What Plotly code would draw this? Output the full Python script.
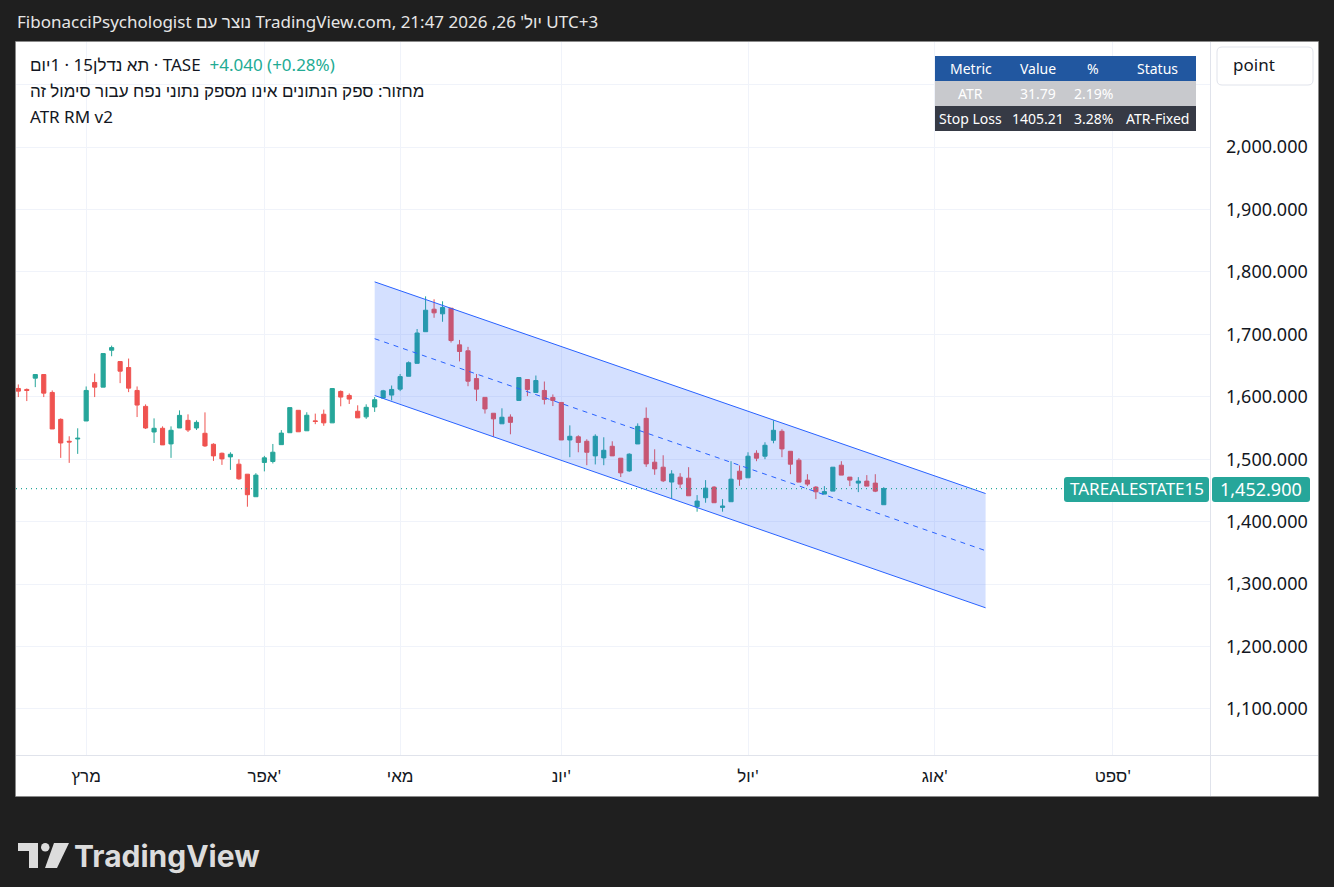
import plotly.graph_objects as go
import pandas as pd

# ---------------- DATA ----------------
session_first = "2026-02-18"
session_last = "2026-09-30"
market_holidays = ["2026-03-03", "2026-04-02", "2026-04-03", "2026-04-06", "2026-04-07",
                   "2026-04-08", "2026-04-22", "2026-05-21", "2026-05-22", "2026-07-23"]

month_numbers = [3, 4, 5, 6, 7, 8, 9]
month_labels = ["מרץ", "אפר'", "מאי", "יונ'", "יול'", "אוג'", "ספט'"]

open_prices = [1613.3, 1611.7, 1629.8, 1635.6, 1606.9, 1563.8, 1528.7, 1532.4, 1561.2, 1622.9,
               1615.4, 1674.5, 1656.4, 1646.8, 1610.1, 1584.6, 1543.6, 1549.5, 1524.5, 1550.0,
               1562.2, 1550.0, 1541.5, 1523.9, 1509.5, 1503.7, 1492.0, 1476.0, 1439.9, 1494.8,
               1496.3, 1523.3, 1542.4, 1578.3, 1545.5, 1561.4, 1572.0, 1558.2, 1608.5, 1602.1,
               1576.8, 1567.8, 1583.6, 1597.9, 1602.7, 1612.2, 1632.8, 1653.5, 1704.2, 1740.2,
               1732.8, 1741.8, 1683.1, 1673.6, 1629.1, 1599.0, 1573.6, 1556.7, 1567.5, 1594.1,
               1627.6, 1606.9, 1610.1, 1598.9, 1590.9, 1530.8, 1535.9, 1528.7, 1505.3, 1502.1,
               1520.7, 1501.6, 1481.3, 1524.4, 1565.4, 1495.2, 1487.2, 1463.4, 1471.2, 1469.6,
               1423.9, 1438.3, 1455.3, 1422.8, 1431.9, 1480.8, 1470.2, 1509.5, 1504.8, 1530.3,
               1544.7, 1512.7, 1498.4, 1466.5, 1455.3, 1444.1, 1448.9, 1490.4, 1471.3, 1461.7,
               1464.9, 1461.7, 1427.1]
high_prices = [1619.7, 1613.3, 1635.6, 1635.6, 1610.1, 1565.4, 1536.7, 1549.5, 1616.5, 1637.2,
               1669.2, 1681.9, 1656.4, 1661.2, 1616.5, 1587.8, 1565.4, 1552.6, 1552.6, 1578.2,
               1571.8, 1562.2, 1575.0, 1525.5, 1510.6, 1511.1, 1500.0, 1476.0, 1477.6, 1505.3,
               1524.4, 1546.6, 1582.6, 1578.3, 1575.2, 1573.0, 1579.4, 1613.2, 1610.1, 1605.3,
               1586.3, 1587.9, 1599.5, 1611.1, 1618.0, 1636.5, 1656.6, 1708.5, 1760.8, 1756.1,
               1752.9, 1741.8, 1691.0, 1679.9, 1636.5, 1599.0, 1573.6, 1581.5, 1571.8, 1630.8,
               1627.6, 1634.0, 1624.4, 1603.7, 1590.9, 1554.2, 1538.3, 1531.9, 1539.9, 1535.1,
               1528.7, 1501.6, 1509.5, 1557.4, 1582.9, 1515.9, 1506.3, 1482.4, 1477.6, 1487.2,
               1442.5, 1466.5, 1456.9, 1436.1, 1496.8, 1490.0, 1511.1, 1514.3, 1527.1, 1562.2,
               1547.9, 1512.7, 1501.6, 1476.0, 1456.9, 1456.9, 1487.2, 1496.8, 1471.3, 1471.3,
               1474.5, 1476.0, 1455.3]
low_prices = [1599.5, 1593.1, 1615.4, 1599.5, 1548.4, 1502.1, 1494.1, 1508.5, 1561.2, 1599.5,
              1615.4, 1664.9, 1621.8, 1607.4, 1567.5, 1548.4, 1526.0, 1522.9, 1502.1, 1550.0,
              1543.6, 1546.8, 1519.7, 1497.3, 1490.9, 1482.9, 1467.0, 1423.9, 1439.9, 1480.5,
              1493.2, 1523.3, 1542.4, 1543.9, 1545.5, 1556.1, 1553.5, 1558.2, 1584.7, 1588.4,
              1566.2, 1564.6, 1575.7, 1597.9, 1594.2, 1609.0, 1632.8, 1653.5, 1704.2, 1726.5,
              1720.1, 1686.8, 1656.6, 1616.9, 1593.1, 1573.1, 1536.0, 1556.7, 1539.9, 1594.1,
              1601.0, 1606.9, 1587.7, 1585.1, 1530.8, 1503.2, 1511.1, 1490.4, 1491.6, 1490.4,
              1505.3, 1471.4, 1479.7, 1524.4, 1487.7, 1475.0, 1463.4, 1436.7, 1453.7, 1441.4,
              1415.9, 1430.3, 1430.3, 1415.9, 1431.9, 1457.4, 1470.2, 1496.8, 1500.0, 1525.5,
              1503.2, 1476.0, 1463.3, 1456.9, 1436.1, 1444.1, 1448.9, 1474.5, 1456.9, 1447.3,
              1456.9, 1447.3, 1427.1]
close_prices = [1609.0, 1610.1, 1635.6, 1605.8, 1548.4, 1526.0, 1527.6, 1533.5, 1610.1, 1615.4,
                1669.2, 1678.7, 1641.0, 1613.8, 1586.7, 1550.0, 1549.5, 1522.9, 1546.3, 1570.2,
                1546.8, 1559.0, 1521.3, 1505.3, 1500.5, 1507.9, 1468.6, 1443.1, 1474.5, 1502.2,
                1511.2, 1541.8, 1582.6, 1543.9, 1570.4, 1560.4, 1558.2, 1613.2, 1599.5, 1596.3,
                1566.2, 1583.1, 1595.3, 1609.5, 1611.7, 1632.3, 1654.5, 1702.1, 1738.6, 1734.4,
                1742.9, 1690.0, 1672.5, 1624.9, 1612.2, 1580.5, 1564.6, 1567.2, 1559.0, 1630.8,
                1611.7, 1626.0, 1595.7, 1594.1, 1530.8, 1536.7, 1526.8, 1511.1, 1536.7, 1514.3,
                1505.3, 1478.1, 1508.0, 1552.6, 1492.5, 1484.5, 1465.4, 1476.4, 1460.1, 1441.4,
                1432.9, 1453.7, 1430.3, 1425.0, 1468.0, 1468.0, 1504.8, 1501.6, 1522.3, 1546.3,
                1516.5, 1492.0, 1463.3, 1460.1, 1447.8, 1448.1, 1487.2, 1474.5, 1466.5, 1464.9,
                1456.9, 1448.86, 1452.9]

channel_bars = [42, 114]
channel_upper = [1784.0, 1445.0]
channel_lower = [1602.0, 1262.0]

price_ticks = [1100, 1200, 1300, 1400, 1500, 1600, 1700, 1800, 1900, 2000, 2100]
labelled_price_ticks = [1100, 1200, 1300, 1400, 1500, 1600, 1700, 1800, 1900, 2000]

last_price = 1452.9
price_change = 4.040
price_change_pct = 0.28
symbol_code = "TAREALESTATE15"

header_text = "FibonacciPsychologist נוצר עם TradingView.com, יול' 26, 2026 21:47 UTC+3"
legend_title = "תא נדלן15 · 1יום · TASE"
legend_volume = "מחזור: ספק הנתונים אינו מספק נתוני נפח עבור סימול זה"
legend_indicator = "ATR RM v2"

table_header = ["Metric", "Value", "%", "Status"]
table_row_atr = ["ATR", "31.79", "2.19%", ""]
table_row_stop = ["Stop Loss", "1405.21", "3.28%", "ATR-Fixed"]

# ---------------- DERIVED ----------------
all_days = pd.bdate_range(session_first, session_last)
sessions = [d for d in all_days if d.strftime("%Y-%m-%d") not in market_holidays]
bar_idx = list(range(len(open_prices)))
bar_dates = [sessions[i].strftime("%Y-%m-%d") for i in bar_idx]
month_tick_idx = []
for m in month_numbers:
    month_tick_idx.append(next(i for i, d in enumerate(sessions) if d.month == m))
channel_mid = [(a + b) / 2 for a, b in zip(channel_upper, channel_lower)]

# ---------------- STYLE / LAYOUT HELPERS ----------------
W, H = 1334, 887
ML, MR, MT, MB = 16, 124, 42, 132
PW, PH = W - ML - MR, H - MT - MB
GREEN = "#26a69a"
RED = "#ef5350"
BLUE = "#2962ff"
TXT = "#131722"
GRID = "#f0f3fa"
SEP = "#e0e3eb"
FONT = "Noto Sans, Liberation Sans, DejaVu Sans, sans-serif"


def X(px):
    return (px - ML) / PW


def Y(py):
    return (MT + PH - py) / PH


def rrect(x0, y0, x1, y1, r):
    rx, ry = r / PW, r / PH
    a0, a1, b0, b1 = X(x0), X(x1), Y(y1), Y(y0)
    return (f"M {a0+rx},{b1} L {a1-rx},{b1} Q {a1},{b1} {a1},{b1-ry} "
            f"L {a1},{b0+ry} Q {a1},{b0} {a1-rx},{b0} L {a0+rx},{b0} "
            f"Q {a0},{b0} {a0},{b0+ry} L {a0},{b1-ry} Q {a0},{b1} {a0+rx},{b1} Z")


fig = go.Figure()

# regression channel
fig.add_trace(go.Scatter(x=channel_bars, y=channel_lower, mode="lines",
                         line=dict(color=BLUE, width=1), hoverinfo="skip", showlegend=False))
fig.add_trace(go.Scatter(x=channel_bars, y=channel_upper, mode="lines", fill="tonexty",
                         fillcolor="rgba(41,98,255,0.2)",
                         line=dict(color=BLUE, width=1), hoverinfo="skip", showlegend=False))
fig.add_trace(go.Scatter(x=channel_bars, y=channel_mid, mode="lines",
                         line=dict(color=BLUE, width=1, dash="5px,5px"),
                         hoverinfo="skip", showlegend=False))

# candles
fig.add_trace(go.Candlestick(
    x=bar_idx, open=open_prices, high=high_prices, low=low_prices, close=close_prices,
    text=bar_dates, whiskerwidth=0,
    increasing=dict(line=dict(color=GREEN, width=1), fillcolor=GREEN),
    decreasing=dict(line=dict(color=RED, width=1), fillcolor=RED),
    showlegend=False))

x_left = (ML - 18.3) / 8.485
x_right = (ML + PW - 18.3) / 8.485
y_bottom = 2000 - (MT + PH - 147) / 0.6244
y_top = 2000 + (147 - MT) / 0.6244

fig.update_layout(
    width=W, height=H,
    margin=dict(l=ML, r=MR, t=MT, b=MB),
    paper_bgcolor="#1f1f1f",
    plot_bgcolor="white",
    font=dict(family=FONT, color=TXT),
    showlegend=False,
    hovermode=False,
    xaxis=dict(range=[x_left, x_right], tickvals=month_tick_idx, ticktext=month_labels,
               showgrid=True, gridcolor=GRID, gridwidth=1, zeroline=False,
               ticks="", ticklabelstandoff=9, tickfont=dict(size=17, color=TXT),
               rangeslider=dict(visible=False), showline=False, fixedrange=True),
    yaxis=dict(range=[y_bottom, y_top], side="right", tickvals=price_ticks,
               ticktext=[f"{v:,.3f}" if v in labelled_price_ticks else "" for v in price_ticks],
               showgrid=True, gridcolor=GRID, gridwidth=1, zeroline=False,
               ticks="", ticklabelstandoff=15, tickfont=dict(size=18, color=TXT),
               showline=False, fixedrange=True),
)

shapes = []
shapes.append(dict(type="rect", xref="paper", yref="paper", x0=X(16), x1=X(1318), y0=Y(796), y1=Y(42),
                   fillcolor="white", line=dict(width=0), layer="below"))
shapes.append(dict(type="line", xref="paper", yref="paper", x0=X(1210.5), x1=X(1210.5), y0=Y(796), y1=Y(42),
                   line=dict(color=SEP, width=1)))
shapes.append(dict(type="line", xref="paper", yref="paper", x0=X(16), x1=X(1318), y0=Y(755.5), y1=Y(755.5),
                   line=dict(color=SEP, width=1)))
shapes.append(dict(type="rect", xref="paper", yref="paper", x0=X(15.5), x1=X(1318.5), y0=Y(796.5), y1=Y(41.5),
                   fillcolor="rgba(0,0,0,0)", line=dict(color="#8a8a8a", width=1)))
shapes.append(dict(type="line", xref="paper", yref="y", x0=X(16), x1=X(1064), y0=last_price, y1=last_price,
                   line=dict(color=GREEN, width=1.2, dash="1px,4px")))
shapes.append(dict(type="path", xref="paper", yref="paper", path=rrect(1064, 477, 1209, 502, 3),
                   fillcolor=GREEN, line=dict(width=0)))
shapes.append(dict(type="path", xref="paper", yref="paper", path=rrect(1212, 477, 1310, 502, 3),
                   fillcolor=GREEN, line=dict(width=0)))
shapes.append(dict(type="path", xref="paper", yref="paper", path=rrect(1217, 47, 1313, 85, 5),
                   fillcolor="white", line=dict(color=SEP, width=1)))
table_top = 56
row_h = 25
row_fills = ["#2157a0", "#c8c9cd", "#363a45"]
for r, fc in enumerate(row_fills):
    shapes.append(dict(type="rect", xref="paper", yref="paper", x0=X(935), x1=X(1196),
                       y0=Y(table_top + (r + 1) * row_h), y1=Y(table_top + r * row_h),
                       fillcolor=fc, line=dict(width=0)))
lc = "#dcdcdc"
shapes.append(dict(type="rect", xref="paper", yref="paper", x0=X(18), x1=X(38), y0=Y(851), y1=Y(843),
                   fillcolor=lc, line=dict(width=0)))
shapes.append(dict(type="rect", xref="paper", yref="paper", x0=X(29), x1=X(38), y0=Y(868), y1=Y(843),
                   fillcolor=lc, line=dict(width=0)))
shapes.append(dict(type="circle", xref="paper", yref="paper", x0=X(41), x1=X(49.5), y0=Y(851.5), y1=Y(843),
                   fillcolor=lc, line=dict(width=0)))
shapes.append(dict(type="path", xref="paper", yref="paper",
                   path=f"M {X(54)},{Y(843)} L {X(69)},{Y(843)} L {X(57)},{Y(868)} L {X(45)},{Y(868)} Z",
                   fillcolor=lc, line=dict(width=0)))
fig.update_layout(shapes=shapes)

anns = []


def ann(text, px, py, size, color, xanchor="left", yref="paper", yval=None, family=FONT):
    anns.append(dict(text=text, xref="paper", yref=yref, x=X(px),
                     y=(Y(py) if yval is None else yval), xanchor=xanchor, yanchor="middle",
                     showarrow=False, font=dict(family=family, size=size, color=color)))


ann(header_text, 15, 21, 17, "#e6e6e6")
ann(legend_title + "  " +
    f"<span style='color:#22ab94'>+{price_change:.3f} (+{price_change_pct:.2f}%)</span>",
    28, 64, 17, TXT)
ann(legend_volume, 28, 90, 17, TXT)
ann(legend_indicator, 28, 116, 17, TXT)
ann(symbol_code, 1136.5, 0, 17, "white", xanchor="center", yref="y", yval=last_price)
ann(f"{last_price:,.3f}", 1261, 0, 18, "white", xanchor="center", yref="y", yval=last_price)
ann("point", 1231, 65, 17, TXT)
col_centers = [970.5, 1037.5, 1093, 1157]
for r, row in enumerate([table_header, table_row_atr, table_row_stop]):
    for c, val in enumerate(row):
        if val:
            ann(val, col_centers[c], table_top + r * row_h + row_h / 2, 14, "white", xanchor="center")
ann("<b>TradingView</b>", 72, 856, 30, "#dcdcdc", family="Inter, Noto Sans, sans-serif")
fig.update_layout(annotations=anns)

fig.write_html("out.html", config={"displayModeBar": False},
               post_script="document.body.style.margin='0px';")
